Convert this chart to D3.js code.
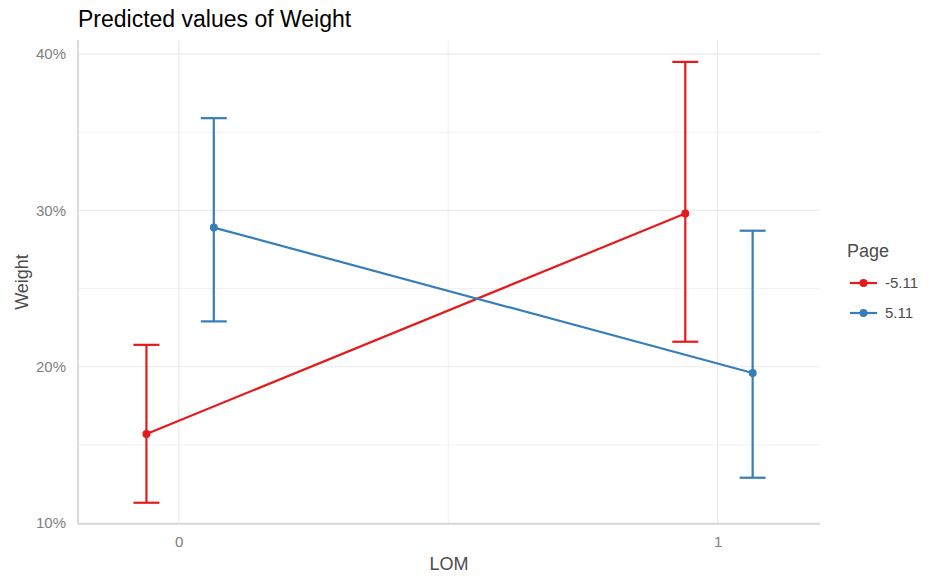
<!DOCTYPE html>
<html>
<head>
<meta charset="utf-8">
<script src="https://cdn.jsdelivr.net/npm/d3@7"></script>
<style>
  body { margin: 0; background: #fff; }
  svg { font-family: "Liberation Sans", Arial, sans-serif; }
</style>
</head>
<body>
<svg id="chart" width="930" height="577"></svg>
<script>
// LOM levels on the x axis
const lomLevels = [0, 1];
// Page groups (legend entries)
const pageGroups = ["-5.11", "5.11"];
const pageColors = ["#E41A1C", "#377EB8"];
// Predicted Weight (proportion) with confidence limits, per group, by LOM level
const predicted = [[0.157, 0.298], [0.289, 0.196]];
const lower = [[0.113, 0.216], [0.229, 0.129]];
const upper = [[0.214, 0.395], [0.359, 0.287]];
const yTicks = [0.1, 0.2, 0.3, 0.4];
const yMinor = [0.15, 0.25, 0.35];
const xMinor = [0.5];
const dodge = [-0.06, 0.065];

const svg = d3.select("#chart");
const margin = { left: 78, right: 110, top: 40, bottom: 53 };
const W = 930, H = 577;
const font = "Liberation Sans, Arial, sans-serif";

const x = d3.scaleLinear().domain([-0.187, 1.19]).range([margin.left, W - margin.right]);
const y = d3.scaleLinear().domain([0.0994, 0.409]).range([H - margin.bottom, margin.top]);

const grid = svg.append("g");
// minor gridlines
grid.selectAll(".ym").data(yMinor).join("line")
  .attr("x1", margin.left).attr("x2", W - margin.right)
  .attr("y1", d => y(d)).attr("y2", d => y(d))
  .attr("stroke", "#f0f0f0").attr("stroke-width", 1);
grid.selectAll(".xm").data(xMinor).join("line")
  .attr("y1", margin.top).attr("y2", H - margin.bottom)
  .attr("x1", d => x(d)).attr("x2", d => x(d))
  .attr("stroke", "#f0f0f0").attr("stroke-width", 1);
// major gridlines
grid.selectAll(".yM").data(yTicks).join("line")
  .attr("x1", margin.left).attr("x2", W - margin.right)
  .attr("y1", d => y(d)).attr("y2", d => y(d))
  .attr("stroke", "#ebebeb").attr("stroke-width", 1.2);
grid.selectAll(".xM").data(lomLevels).join("line")
  .attr("y1", margin.top).attr("y2", H - margin.bottom)
  .attr("x1", d => x(d)).attr("x2", d => x(d))
  .attr("stroke", "#ebebeb").attr("stroke-width", 1.2);

// axis lines
svg.append("line").attr("x1", margin.left).attr("x2", margin.left)
  .attr("y1", margin.top).attr("y2", H - margin.bottom)
  .attr("stroke", "#d0d0d0").attr("stroke-width", 1.5);
svg.append("line").attr("x1", margin.left).attr("x2", W - margin.right)
  .attr("y1", H - margin.bottom).attr("y2", H - margin.bottom)
  .attr("stroke", "#d0d0d0").attr("stroke-width", 1.5);

// axes (labels only)
const yAxis = d3.axisLeft(y).tickValues(yTicks).tickFormat(d3.format(".0%")).tickSize(0).tickPadding(12);
const gy = svg.append("g").attr("transform", `translate(${margin.left},0)`).call(yAxis);
gy.select(".domain").remove();
gy.selectAll("text").attr("fill", "#808080").attr("font-size", 15).attr("font-family", font);

const xAxis = d3.axisBottom(x).tickValues(lomLevels).tickFormat(d3.format("d")).tickSize(0).tickPadding(12);
const gx = svg.append("g").attr("transform", `translate(0,${H - margin.bottom})`).call(xAxis);
gx.select(".domain").remove();
gx.selectAll("text").attr("fill", "#808080").attr("font-size", 15).attr("font-family", font);

// series
const capHalf = 13;
pageGroups.forEach((g, i) => {
  const col = pageColors[i];
  const pts = lomLevels.map((lv, j) => ({ x: lv + dodge[i], p: predicted[i][j], lo: lower[i][j], hi: upper[i][j] }));
  const gs = svg.append("g");
  gs.append("path").datum(pts)
    .attr("d", d3.line().x(d => x(d.x)).y(d => y(d.p)))
    .attr("fill", "none").attr("stroke", col).attr("stroke-width", 2.2);
  gs.selectAll(".eb").data(pts).join("line")
    .attr("x1", d => x(d.x)).attr("x2", d => x(d.x))
    .attr("y1", d => y(d.lo)).attr("y2", d => y(d.hi))
    .attr("stroke", col).attr("stroke-width", 2.2);
  gs.selectAll(".capLo").data(pts).join("line")
    .attr("x1", d => x(d.x) - capHalf).attr("x2", d => x(d.x) + capHalf)
    .attr("y1", d => y(d.lo)).attr("y2", d => y(d.lo))
    .attr("stroke", col).attr("stroke-width", 2.2);
  gs.selectAll(".capHi").data(pts).join("line")
    .attr("x1", d => x(d.x) - capHalf).attr("x2", d => x(d.x) + capHalf)
    .attr("y1", d => y(d.hi)).attr("y2", d => y(d.hi))
    .attr("stroke", col).attr("stroke-width", 2.2);
  gs.selectAll("circle").data(pts).join("circle")
    .attr("cx", d => x(d.x)).attr("cy", d => y(d.p)).attr("r", 4).attr("fill", col);
});

// title
svg.append("text").attr("x", 78).attr("y", 27).text("Predicted values of Weight")
  .attr("font-size", 23).attr("fill", "#000");

// axis titles
svg.append("text").attr("x", (x(-0.187) + x(1.19)) / 2).attr("y", 570).attr("text-anchor", "middle")
  .text("LOM").attr("font-size", 18).attr("fill", "#4d4d4d");
svg.append("text").attr("transform", `translate(28,${(margin.top + H - margin.bottom) / 2}) rotate(-90)`)
  .attr("text-anchor", "middle").text("Weight").attr("font-size", 18).attr("fill", "#4d4d4d");

// legend
const lg = svg.append("g").attr("transform", "translate(846,0)");
lg.append("text").attr("x", 1).attr("y", 257).text("Page").attr("font-size", 18).attr("fill", "#4d4d4d");
pageGroups.forEach((g, i) => {
  const yy = 283 + i * 30;
  lg.append("line").attr("x1", 4).attr("x2", 31).attr("y1", yy).attr("y2", yy)
    .attr("stroke", pageColors[i]).attr("stroke-width", 2.2);
  lg.append("circle").attr("cx", 17.5).attr("cy", yy).attr("r", 4).attr("fill", pageColors[i]);
  lg.append("text").attr("x", 39).attr("y", yy + 5).text(g).attr("font-size", 15).attr("fill", "#4d4d4d");
});
</script>
</body>
</html>
